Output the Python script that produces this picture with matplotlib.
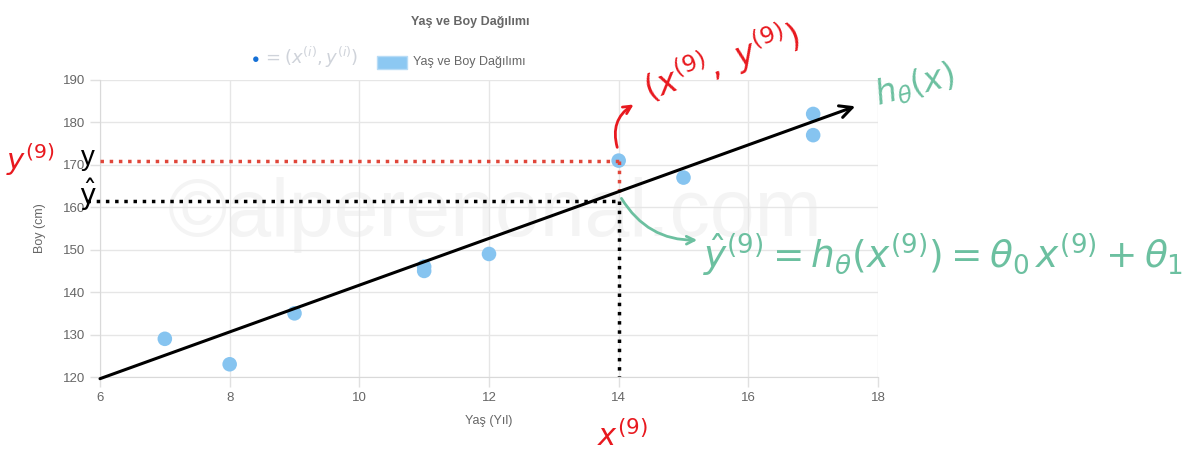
import numpy as np
import matplotlib.pyplot as plt
from matplotlib.patches import Rectangle, FancyArrowPatch

# veri
yas = [7, 8, 9, 11, 11, 12, 14, 15, 17, 17]
boy = [129, 123, 135, 145, 146, 149, 171, 167, 182, 177]
x_ticks = [6, 8, 10, 12, 14, 16, 18]
y_ticks = [120, 130, 140, 150, 160, 170, 180, 190]
# regresyon dogrusu (elle cizilmis ok)
line_x = [6, 17.65]
line_y = [119.6, 183.8]
# secilen ornek (9. ornek)
x9 = 14
y9 = 171
y9_hat = 161.5

W, H = 1191, 462
plt.rcParams['font.family'] = ['Liberation Sans', 'DejaVu Sans']

fig = plt.figure(figsize=(W / 100, H / 100), dpi=100)


def px(x, y):
    """Piksel koordinatini figur oranina cevirir."""
    return x / W, 1 - y / H


# filigran
fig.text(*px(495, 215), '©alperenonal.com', fontsize=58, color='#f4f4f4',
         ha='center', va='center', zorder=-5)

ax = fig.add_axes([100 / W, (H - 377) / H, 778 / W, 297 / H])
ax.patch.set_alpha(0)
ax.set_xlim(6, 18)
ax.set_ylim(120, 190)
ax.set_xticks(x_ticks)
ax.set_yticks(y_ticks)
ax.grid(True, color='#e6e6e6', lw=1)
ax.set_axisbelow(True)
for s in ['top', 'right']:
    ax.spines[s].set_visible(False)
for s in ['left', 'bottom']:
    ax.spines[s].set_color('#d9d9d9')
ax.tick_params(colors='#666666', labelsize=9.5, length=7, width=1)
ax.tick_params(axis='both', color='#e0e0e0')
ax.set_xlabel('Yaş (Yıl)', color='#666666', fontsize=9, labelpad=8)
ax.set_ylabel('Boy (cm)', color='#666666', fontsize=9, labelpad=12)

ax.scatter(yas, boy, s=110, color='#86c4f0', edgecolor='none', zorder=3)

# kesikli cizgiler
ax.plot([6, x9], [y9, y9], ls=':', color='#e0463a', lw=2.5, clip_on=False, zorder=4)
ax.plot([x9, x9], [y9, 162.8], ls=':', color='#e0463a', lw=2.5, zorder=4)
ax.plot([5.8, x9], [y9_hat, y9_hat], ls=':', color='black', lw=2.5, clip_on=False, zorder=4)
ax.plot([x9, x9], [y9_hat, 120], ls=':', color='black', lw=2.5, zorder=4)

# h_theta(x) dogrusu
ax.annotate('', xy=(line_x[1], line_y[1]), xytext=(line_x[0], line_y[0]),
            arrowprops=dict(arrowstyle='->', lw=2.2, color='black',
                            mutation_scale=22, shrinkA=0, shrinkB=0),
            annotation_clip=False, zorder=5)

# baslik ve lejant
fig.text(*px(470, 22), 'Yaş ve Boy Dağılımı', fontsize=9, color='#666666',
         fontweight='bold', ha='center', va='center')
fig.patches.append(Rectangle(px(377, 69), 30 / W, 13 / H, transform=fig.transFigure,
                             facecolor='#8cc8f2', edgecolor='#b8dcf6'))
fig.text(*px(413, 62), 'Yaş ve Boy Dağılımı', fontsize=9, color='#666666',
         ha='left', va='center')
fig.text(*px(256, 60), '●', fontsize=9, color='#1570d6', ha='center', va='center')
fig.text(*px(262, 57), r'$=(x^{(i)}, y^{(i)})$', fontsize=13, color='#cfd3da',
         ha='left', va='center')

# el yazisi notlar
red = '#e8191f'
teal = '#6cc0a0'
fig.text(*px(30, 160), r'$y^{(9)}$', fontsize=21, color=red, ha='center', va='center')
fig.text(*px(88, 158), 'y', fontsize=20, color='black', ha='center', va='center')
fig.text(*px(88, 195), r'$\hat{\mathrm{y}}$', fontsize=20, color='black',
         ha='center', va='center')
fig.text(*px(722, 62), r'$(x^{(9)},\ y^{(9)})$', fontsize=24, color=red,
         ha='center', va='center', rotation=20)
fig.text(*px(622, 437), r'$x^{(9)}$', fontsize=22, color=red, ha='center', va='center')
fig.text(*px(915, 85), r'$h_\theta(x)$', fontsize=24, color=teal,
         ha='center', va='center', rotation=15)
fig.text(*px(703, 255), r'$\hat{y}^{(9)} = h_\theta(x^{(9)}) = \theta_0\, x^{(9)} + \theta_1$',
         fontsize=27, color=teal, ha='left', va='center')

fig.patches.append(FancyArrowPatch(
    px(618, 150), px(636, 103), transform=fig.transFigure,
    connectionstyle='arc3,rad=-0.4', arrowstyle='->', mutation_scale=14,
    color=red, lw=2))
fig.patches.append(FancyArrowPatch(
    px(620, 196), px(700, 240), transform=fig.transFigure,
    connectionstyle='arc3,rad=0.3', arrowstyle='->', mutation_scale=14,
    color=teal, lw=2))

fig.savefig('out.png', dpi=100)
